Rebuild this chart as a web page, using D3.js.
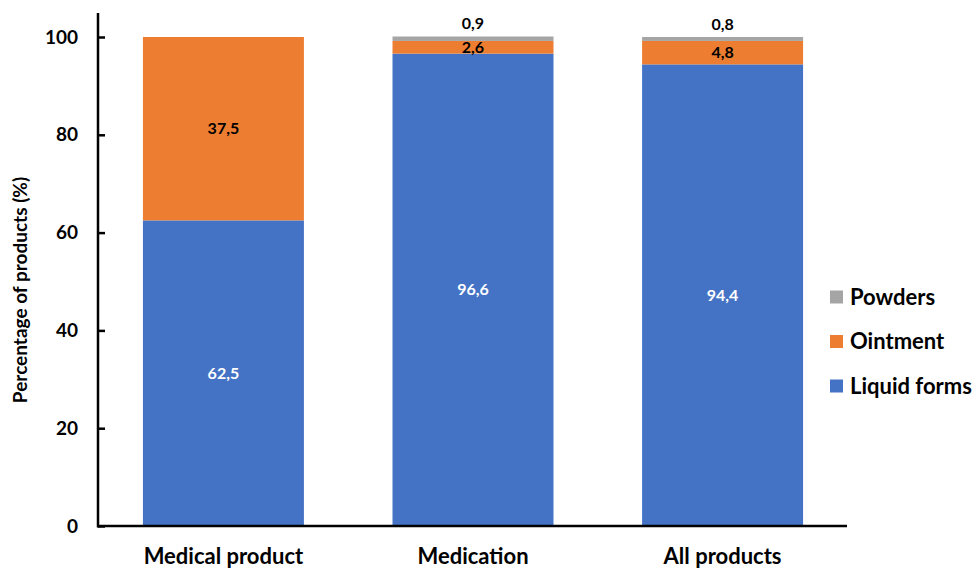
<!DOCTYPE html>
<html><head><meta charset="utf-8">
<script src="https://cdn.jsdelivr.net/npm/d3@7"></script>
<style>body{margin:0;background:#fff;} svg{display:block;font-family:Lato,"Open Sans",sans-serif;}</style>
</head><body>
<svg id="c" width="976" height="569"></svg>
<script>
const categories = ["Medical product", "Medication", "All products"];
const seriesNames = ["Liquid forms", "Ointment", "Powders"];
const liquidForms = [62.5, 96.6, 94.4];
const ointment = [37.5, 2.6, 4.8];
const powders = [0, 0.9, 0.8];
const yTicks = [0, 20, 40, 60, 80, 100];
const colors = ["#4472C4", "#ED7D31", "#A5A5A5"];

const svg = d3.select("#c");
const left = 98, bottom = 526, right = 848;
const y = d3.scaleLinear().domain([0, 100]).range([bottom, 37]);
const x = d3.scaleBand().domain(categories).range([left, right]).paddingInner(0.355).paddingOuter(0.18);

const rows = categories.map((c, i) => ({cat: c, "Liquid forms": liquidForms[i], "Ointment": ointment[i], "Powders": powders[i]}));
const stack = d3.stack().keys(seriesNames)(rows);

stack.forEach((layer, si) => {
  svg.append("g").selectAll("rect").data(layer).join("rect")
    .attr("x", d => x(d.data.cat))
    .attr("width", x.bandwidth())
    .attr("y", d => y(d[1]))
    .attr("height", d => y(d[0]) - y(d[1]))
    .attr("fill", colors[si]);
});

// labels
stack.forEach((layer, si) => {
  layer.forEach(d => {
    const v = d[1] - d[0];
    if (v <= 0) return;
    const fmt = v.toFixed(1).replace(".", ",");
    let ly;
    if (si === 2) ly = y(d[1]) - 13;
    else ly = (y(d[0]) + y(d[1])) / 2;
    svg.append("text")
      .attr("x", x(d.data.cat) + x.bandwidth() / 2)
      .attr("y", ly)
      .attr("dy", "0.35em")
      .attr("text-anchor", "middle")
      .attr("font-size", 16)
      .attr("font-weight", "bold")
      .attr("fill", si === 0 ? "#fff" : "#000")
      .text(fmt);
  });
});

// y axis
const yAxis = svg.append("g").attr("transform", `translate(${left},0)`)
  .call(d3.axisLeft(y).tickValues(yTicks).tickSize(-7).tickPadding(20));
yAxis.select(".domain").remove();
yAxis.selectAll(".tick line").attr("stroke", "#000").attr("stroke-width", 2.5);
yAxis.selectAll(".tick text").attr("font-size", 19).attr("font-weight", "bold").attr("fill", "#000").attr("font-family", "Lato, sans-serif");
svg.append("line").attr("x1", left).attr("x2", left).attr("y1", 13).attr("y2", bottom + 1.5).attr("stroke", "#000").attr("stroke-width", 2.5);
svg.append("line").attr("x1", left).attr("x2", 847).attr("y1", bottom).attr("y2", bottom).attr("stroke", "#000").attr("stroke-width", 2.5);

// x labels
categories.forEach(c => {
  svg.append("text").attr("x", x(c) + x.bandwidth() / 2).attr("y", 564)
    .attr("text-anchor", "middle").attr("font-size", 22).attr("font-weight", "bold").text(c);
});

// y title
svg.append("text").attr("transform", "translate(20,290) rotate(-90)")
  .attr("dy", "0.35em").attr("text-anchor", "middle").attr("font-size", 19).attr("font-weight", "bold").text("Percentage of products (%)");

// legend
const legendOrder = ["Powders", "Ointment", "Liquid forms"];
legendOrder.forEach((n, i) => {
  const ly = 297 + i * 44.5;
  svg.append("rect").attr("x", 830).attr("y", ly - 6.5).attr("width", 13).attr("height", 13).attr("fill", colors[seriesNames.indexOf(n)]);
  svg.append("text").attr("x", 850).attr("y", ly).attr("dy", "0.35em").attr("font-size", 22).attr("font-weight", "bold").text(n);
});
</script>
</body></html>
